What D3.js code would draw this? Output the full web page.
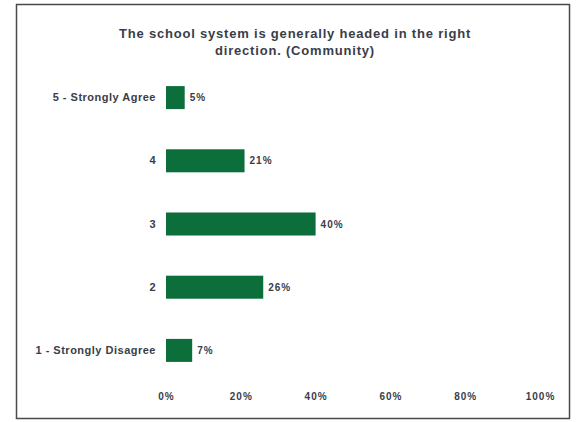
<!DOCTYPE html>
<html>
<head>
<meta charset="utf-8">
<script src="https://cdn.jsdelivr.net/npm/d3@7"></script>
<style>
  html, body { margin: 0; padding: 0; background: #fff; }
  svg { display: block; }
  text { font-family: "Liberation Sans", Arial, sans-serif; fill: #3a3d48; font-weight: bold; }
</style>
</head>
<body>
<svg id="chart" width="579" height="422"></svg>
<script>
const titleLines = ["The school system is generally headed in the right", "direction. (Community)"];
const categories = ["5 - Strongly Agree", "4", "3", "2", "1 - Strongly Disagree"];
const values = [5, 21, 40, 26, 7];
const tickValues = [0, 20, 40, 60, 80, 100];

const svg = d3.select("#chart");
const W = 579, H = 422;

svg.append("rect").attr("width", W).attr("height", H).attr("fill", "#fff");
// frame
svg.append("rect")
  .attr("x", 16.5).attr("y", 4.5).attr("width", 553).attr("height", 414)
  .attr("fill", "none").attr("stroke", "#4a4a4a").attr("stroke-width", 1.5);

// title
svg.append("g").selectAll("text").data(titleLines).join("text")
  .attr("x", 295).attr("y", (d, i) => 37.5 + i * 17)
  .attr("text-anchor", "middle")
  .style("font-size", "13px")
  .style("letter-spacing", "0.8px")
  .text(d => d);

const x = d3.scaleLinear().domain([0, 100]).range([166, 540]);
const y = d3.scaleBand().domain(categories).range([66, 382]).paddingInner(0.636).paddingOuter(0.318);

const data = categories.map((c, i) => ({ c, v: values[i] }));

svg.append("g").selectAll("rect").data(data).join("rect")
  .attr("x", x(0))
  .attr("y", d => y(d.c))
  .attr("width", d => x(d.v) - x(0))
  .attr("height", y.bandwidth())
  .attr("fill", "#0b6e3b");

// value labels
svg.append("g").selectAll("text").data(data).join("text")
  .attr("x", d => x(d.v) + 5)
  .attr("y", d => y(d.c) + y.bandwidth() / 2)
  .attr("dy", "0.35em")
  .style("font-size", "10px")
  .style("letter-spacing", "1px")
  .text(d => d.v + "%");

// category axis
const yAxis = d3.axisLeft(y).tickSize(0).tickPadding(10);
const gy = svg.append("g").attr("transform", `translate(${x(0)},0)`).call(yAxis);
gy.select(".domain").remove();
gy.selectAll("text").style("font-size", "11px").style("letter-spacing", "0.5px")
  .style("font-family", null).attr("fill", null);

// x axis
const xAxis = d3.axisBottom(x).tickValues(tickValues).tickFormat(d => d + "%").tickSize(0).tickPadding(0);
const gx = svg.append("g").attr("transform", `translate(0,393)`).call(xAxis);
gx.select(".domain").remove();
gx.selectAll("text").style("font-size", "10px").style("letter-spacing", "1px")
  .style("font-family", null).attr("fill", null);
</script>
</body>
</html>
